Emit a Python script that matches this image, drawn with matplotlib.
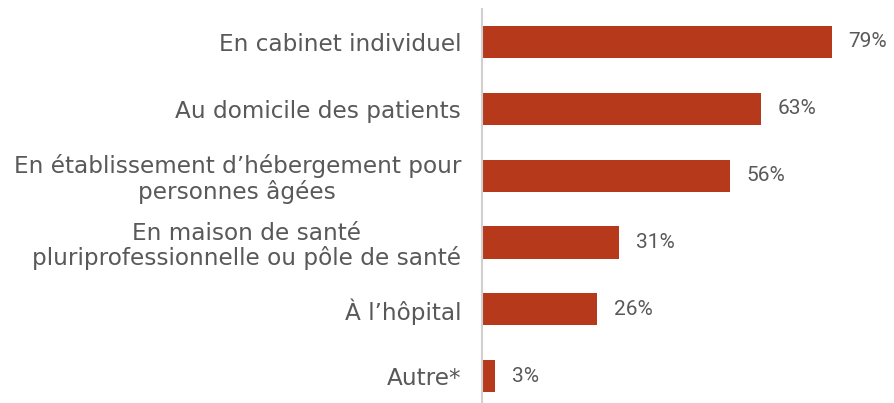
import matplotlib.pyplot as plt

categories = [
    "En cabinet individuel",
    "Au domicile des patients",
    "En établissement d\u2019hébergement pour\npersonnes âgées",
    "En maison de santé\npluriprofessionnelle ou pôle de santé",
    "À l\u2019hôpital",
    "Autre*",
]
values = [79, 63, 56, 31, 26, 3]

bar_color = "#B5391A"
text_color = "#595959"

plt.rcParams["font.family"] = ["DejaVu Sans"]

fig = plt.figure(figsize=(8.95, 4.03), dpi=100)
ax = fig.add_axes([0.5385, 0.0, 0.4615, 0.978])

pos = list(range(len(categories)))
bars = ax.barh(pos, values, height=0.48, color=bar_color)

# percentage labels just past the end of each bar
for b, v in zip(bars, values):
    ax.annotate(f"{v}%", (b.get_width(), b.get_y() + b.get_height() / 2),
                xytext=(12, 0), textcoords="offset points",
                va="center", ha="left", fontsize=15, color=text_color,
                family="Roboto")

ax.set_yticks(pos)
ax.set_yticklabels(categories, fontsize=16.7, color=text_color)
for t in ax.get_yticklabels():
    t.set_multialignment("center")
    t.set_linespacing(1.08)
ax.tick_params(axis="y", length=0, pad=15)

ax.set_xlim(0, 93.2)
ax.set_ylim(5.40, -0.494)
ax.set_xticks([])

for s in ["top", "right", "bottom"]:
    ax.spines[s].set_visible(False)
ax.spines["left"].set_color("#D0D0D0")
ax.spines["left"].set_linewidth(1.5)

fig.savefig("out.png", dpi=100)
